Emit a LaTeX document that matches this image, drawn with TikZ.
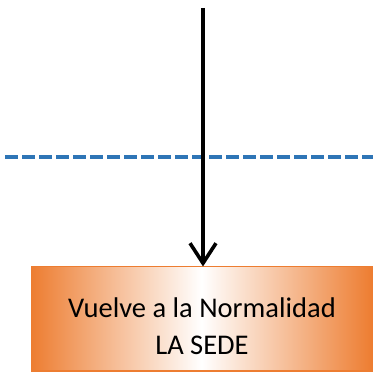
\documentclass[tikz,border=0pt]{standalone}
\usepackage{fontspec}
\setmainfont{Carlito}
\usetikzlibrary{arrows.meta}
\definecolor{boxorange}{RGB}{237,125,49}
\definecolor{dashblue}{RGB}{46,117,182}
\tikzset{
  flowline/.style={line width=3.6pt, -{Straight Barb[length=20pt,width=26pt,line width=3.6pt]}},
  sepline/.style={draw=dashblue, line width=3.6pt, dash pattern=on 13pt off 4pt},
  shadedbox/.style={draw=boxorange, line width=1pt, left color=boxorange, right color=boxorange, middle color=white, minimum width=341pt, minimum height=104pt, inner sep=0pt},
  boxtext/.style={align=center, font=\fontsize{28.5}{37}\selectfont, text=black}
}
\begin{document}
\begin{tikzpicture}[x=1pt,y=1pt]
\useasboundingbox (0,0) rectangle (373,373);
\coordinate (dl) at (5,216);
\coordinate (dr) at (373,216);
\draw[sepline] (dl) -- (dr);
\node[shadedbox] (box) at (201.5,54) {};
\node[boxtext] (txt) at (202,47) {Vuelve a la Normalidad\\LA SEDE};
\coordinate (top) at (203,365);
\draw[flowline] (top) -- (top |- box.north);
\end{tikzpicture}
\end{document}
